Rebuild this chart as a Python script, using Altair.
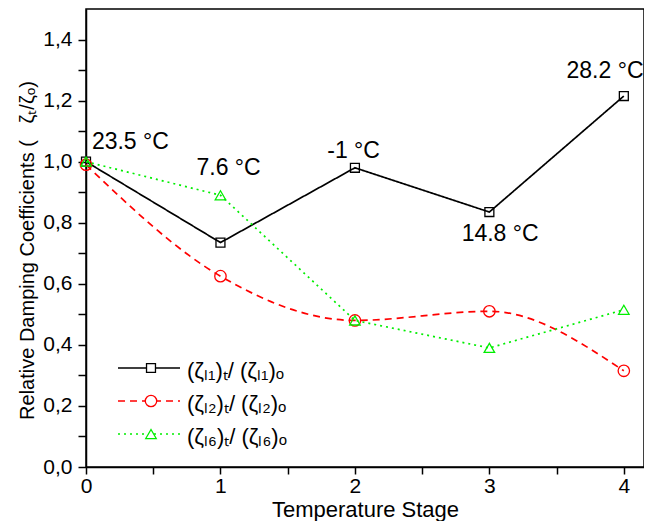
import altair as alt
import pandas as pd

# ---- data ----
stages = [0, 1, 2, 3, 4]
zeta_l1 = [1.00, 0.735, 0.98, 0.835, 1.215]
zeta_l2 = [0.99, 0.625, 0.48, 0.51, 0.315]
zeta_l6 = [1.00, 0.89, 0.48, 0.39, 0.515]

temp_labels = ["23.5 °C", "7.6 °C", "-1 °C", "14.8 °C", "28.2 °C"]
temp_x = [0.33, 1.06, 1.99, 3.08, 3.86]
temp_y = [1.066, 0.98, 1.036, 0.764, 1.298]

legend_labels = ["(ζₗ₁)ₜ/ (ζₗ₁)ₒ", "(ζₗ₂)ₜ/ (ζₗ₂)ₒ", "(ζₗ₆)ₜ/ (ζₗ₆)ₒ"]

FONT = "Liberation Sans"
W, H = 558, 458

x_scale = alt.Scale(domain=[0, 4.15], nice=False, zero=False)
y_scale = alt.Scale(domain=[0, 1.5], nice=False)

x_axis = alt.Axis(
    values=[i * 0.5 for i in range(9)],
    labelExpr="datum.value % 1 == 0 ? format(datum.value, 'd') : ''",
    title="Temperature Stage", titleFontSize=22, titleFontWeight="normal",
    titleBaseline="alphabetic", titleY=49,
    labelFontSize=21, labelPadding=1, tickSize=7, grid=False,
    domainColor="black", tickColor="black", domainWidth=1.5, tickWidth=1.5,
    labelColor="black", titleColor="black", labelFlush=False,
)
y_axis = alt.Axis(
    values=[round(i * 0.1, 1) for i in range(15)],
    labelExpr="round(datum.value*10) % 2 == 0 ? replace(format(datum.value, '.1f'), '.', ',') : ''",
    title="Relative Damping Coefficients (\u00a0\u00a0\u00a0ζₜ/ζₒ)", titleFontSize=20,
    titleFontWeight="normal", titleAngle=270, titleBaseline="alphabetic",
    titleX=-53, titleY=241, titleAlign="center",
    labelFontSize=21, labelPadding=6, tickSize=8, grid=False,
    domainColor="black", tickColor="black", domainWidth=1.5, tickWidth=1.5,
    labelColor="black", titleColor="black", labelFlush=False,
)

XE = dict(field="stage", type="quantitative", scale=x_scale, axis=x_axis)
YE = dict(field="value", type="quantitative", scale=y_scale, axis=y_axis)

series = [
    (zeta_l1, "black", [1, 0], "square", 80, "linear"),
    (zeta_l2, "#ff0000", [7, 5], "circle", 130, "monotone"),
    (zeta_l6, "#00ee00", [2, 4], "triangle-up", 110, "linear"),
]

layers = []
for vals, col, dash, shape, size, interp in series:
    df = pd.DataFrame({"stage": stages, "value": vals})
    line = alt.Chart(df).mark_line(color=col, strokeDash=dash, strokeWidth=1.7,
                                   interpolate=interp).encode(
        x=alt.X(**XE), y=alt.Y(**YE))
    pts = alt.Chart(df).mark_point(shape=shape, size=size, filled=False, color=col,
                                   strokeWidth=1.3, opacity=1).encode(
        x=alt.X(**XE), y=alt.Y(**YE))
    layers += [line, pts]

ann = pd.DataFrame({"label": temp_labels, "stage": temp_x, "value": temp_y})
text_layer = alt.Chart(ann).mark_text(fontSize=23, color="black", font=FONT,
                                      align="center", baseline="middle").encode(
    x=alt.X(**XE), y=alt.Y(**YE), text="label:N")
layers.append(text_layer)

# ---- manual legend (line + marker + label) ----
one = alt.Data(values=[{"a": 1}])
row_y = [359, 392, 425]
for (vals, col, dash, shape, size, interp), lab, ry in zip(series, legend_labels, row_y):
    layers.append(alt.Chart(one).mark_rule(color=col, strokeDash=dash, strokeWidth=1.7).encode(
        x=alt.value(32), x2=alt.value(94), y=alt.value(ry)))
    layers.append(alt.Chart(one).mark_point(shape=shape, size=size, filled=True, fill="white",
                                            stroke=col, strokeWidth=1.3, opacity=1).encode(
        x=alt.value(65), y=alt.value(ry)))
    layers.append(alt.Chart(one).mark_text(fontSize=22, font=FONT, color="black",
                                           align="left", baseline="middle").encode(
        x=alt.value(101), y=alt.value(ry + 3), text=alt.value(lab)))

chart = alt.layer(*layers).properties(
    width=W, height=H,
    autosize=alt.AutoSizeParams(type="none"),
    padding={"left": 78, "top": 1, "right": 0, "bottom": 54},
).configure(font=FONT).configure_view(stroke="black", strokeWidth=1.5)

chart.save("out.html", embed_options={"renderer": "svg", "actions": False})
